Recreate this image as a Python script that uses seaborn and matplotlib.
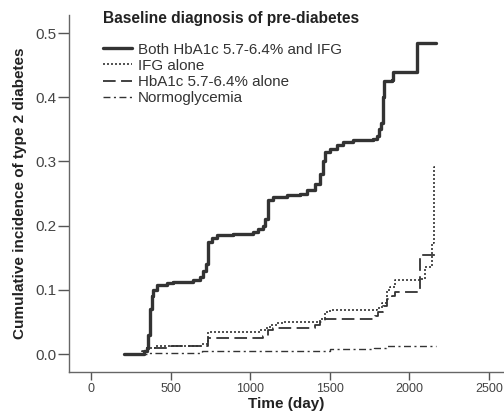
import numpy as np
import pandas as pd
import seaborn as sns
import matplotlib.pyplot as plt

# Curvas de incidencia acumulada
both_t = [207, 308, 330, 350, 360, 370, 380, 391, 412, 475, 517, 600, 643, 685, 705, 722, 737, 758, 790,
          894, 1020, 1051, 1082, 1093, 1110, 1145, 1229, 1313, 1355, 1407, 1438, 1459, 1470, 1501, 1543,
          1585, 1648, 1773, 1794, 1809, 1821, 1832, 1842, 1888, 1899, 2035, 2046, 2167]
both_y = [0.0, 0.0, 0.005, 0.01, 0.03, 0.07, 0.09, 0.10, 0.107, 0.11, 0.113, 0.113, 0.115, 0.12, 0.13, 0.14,
          0.175, 0.18, 0.185, 0.187, 0.19, 0.195, 0.20, 0.21, 0.24, 0.245, 0.248, 0.25, 0.255, 0.265, 0.28,
          0.30, 0.315, 0.32, 0.325, 0.33, 0.333, 0.335, 0.34, 0.35, 0.36, 0.40, 0.425, 0.427, 0.44, 0.44,
          0.484, 0.484]

ifg_t = [207, 290, 320, 350, 400, 700, 737, 1062, 1100, 1125, 1166, 1208, 1397, 1438, 1470, 1501, 1731,
         1794, 1826, 1857, 1878, 1910, 2067, 2098, 2130, 2142, 2155, 2161]
ifg_y = [0.0, 0.0, 0.005, 0.01, 0.012, 0.015, 0.035, 0.037, 0.04, 0.045, 0.048, 0.05, 0.05, 0.055, 0.065,
         0.068, 0.068, 0.072, 0.08, 0.10, 0.105, 0.115, 0.117, 0.1355, 0.1355, 0.173, 0.291, 0.291]

hba_t = [207, 290, 330, 350, 500, 737, 1051, 1082, 1114, 1145, 1375, 1407, 1438, 1470, 1763, 1784, 1805,
         1836, 1857, 1888, 1910, 2062, 2069, 2171]
hba_y = [0.0, 0.0, 0.005, 0.01, 0.013, 0.025, 0.025, 0.028, 0.038, 0.04, 0.04, 0.045, 0.05, 0.054, 0.054,
         0.06, 0.065, 0.075, 0.085, 0.09, 0.097, 0.097, 0.155, 0.155]

norm_t = [207, 350, 500, 700, 1100, 1500, 1780, 1850, 2167]
norm_y = [0.0, 0.001, 0.002, 0.004, 0.005, 0.008, 0.010, 0.012, 0.012]

labels = ['Both HbA1c 5.7-6.4% and IFG', 'IFG alone', 'HbA1c 5.7-6.4% alone', 'Normoglycemia']

sns.set_style('white')
plt.rcParams['font.family'] = ['Liberation Sans', 'DejaVu Sans']

fig = plt.figure(figsize=(5.04, 4.12), dpi=100)
ax = fig.add_axes([0.137, 0.097, 0.863, 0.8665])

cor = '#333333'
series = [(both_t, both_y, dict(linewidth=2.4, linestyle='-')),
          (ifg_t, ifg_y, dict(linewidth=1.2, linestyle=(0, (1.2, 1.2)))),
          (hba_t, hba_y, dict(linewidth=1.3, linestyle=(0, (7, 3)))),
          (norm_t, norm_y, dict(linewidth=1.0, linestyle=(0, (5, 2.5, 1.5, 2.5))))]
for (t, y, st), lab in zip(series, labels):
    sns.lineplot(x=t, y=y, ax=ax, drawstyle='steps-post', color=cor, label=lab, **st)

ax.set_xlim(-138, 2594)
ax.set_ylim(-0.028, 0.528)
ax.set_xticks([0, 500, 1000, 1500, 2000, 2500])
ax.set_yticks([0.0, 0.1, 0.2, 0.3, 0.4, 0.5])
ax.set_yticklabels(['0.0', '0.1', '0.2', '0.3', '0.4', '0.5'])

ax.spines['top'].set_visible(False)
ax.spines['right'].set_visible(False)
for s in ['left', 'bottom']:
    ax.spines[s].set_color('#666666')
    ax.spines[s].set_linewidth(1.0)
ax.tick_params(axis='x', which='major', direction='out', length=6, width=1, color='#555555',
               labelcolor='#444444', labelsize=9, bottom=True, pad=2)
ax.tick_params(axis='y', which='major', direction='out', length=8, width=1, color='#555555',
               labelcolor='#444444', labelsize=11, left=True, pad=1)

ax.set_xlabel('Time (day)', fontsize=11, fontweight='bold', color='#222222', labelpad=1)
ax.set_ylabel('Cumulative incidence of type 2 diabetes', fontsize=11, fontweight='bold',
              color='#222222', labelpad=6)

fig.text(103 / 504, 1 - 18 / 412, 'Baseline diagnosis of pre-diabetes', fontsize=11.2,
         fontweight='bold', color='#222222', ha='left', va='center')

leg = ax.legend(loc='upper left', bbox_to_anchor=(0.065, 0.94), frameon=False, fontsize=10.9,
                handlelength=1.9, handletextpad=0.4, labelspacing=0.15, borderaxespad=0)
for txt in leg.get_texts():
    txt.set_color('#333333')

plt.savefig('out.png', dpi=100)
